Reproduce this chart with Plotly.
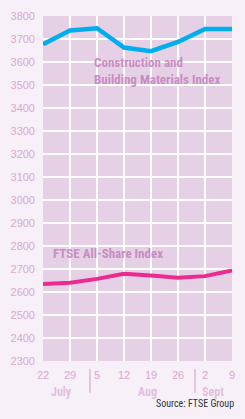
import plotly.graph_objects as go

dates = ["22", "29", "5", "12", "19", "26", "2", "9"]
construction = [3677, 3737, 3747, 3663, 3647, 3687, 3744, 3744]
ftse = [2635, 2640, 2657, 2679, 2672, 2662, 2669, 2694]
yticks = list(range(2300, 3801, 100))
months = ["July", "Aug", "Sept"]
month_pos = [0.7, 3.88, 6.3]
sep_pos = [1.74, 5.63]

x = list(range(len(dates)))
FONT = "Liberation Sans Narrow, Roboto Condensed, DejaVu Sans Condensed, Liberation Sans"

fig = go.Figure()
fig.add_trace(go.Scatter(x=x, y=construction, mode="lines",
                         line=dict(color="#00aeef", width=4.5), showlegend=False))
fig.add_trace(go.Scatter(x=x, y=ftse, mode="lines",
                         line=dict(color="#ec2a8f", width=4), showlegend=False))

fig.update_layout(
    width=245, height=419,
    margin=dict(l=43, r=13, t=9.5, b=57.5),
    paper_bgcolor="#f7f0f8",
    plot_bgcolor="#e5d0e6",
    font=dict(family="Liberation Sans, Arial", size=11, color="#d9a8d2"),
)
fig.update_xaxes(range=[0, 7], tickvals=x, ticktext=dates, showgrid=True,
                 gridcolor="#ffffff", gridwidth=1.5, zeroline=False, showline=False,
                 ticks="", ticklabelstandoff=6, tickfont=dict(size=11, color="#d9a8d2"))
fig.update_yaxes(range=[2300, 3800], tickvals=yticks, showgrid=True,
                 gridcolor="#ffffff", gridwidth=1.5, zeroline=False, showline=False,
                 ticks="", ticklabelstandoff=7, tickfont=dict(size=11, color="#d9a8d2"))

ann_color = "#c98dc3"
fig.add_annotation(x=1.82, y=3562, xref="x", yref="y", xanchor="left", yanchor="middle",
                   text="Construction and<br>Building Materials Index", showarrow=False,
                   align="left", font=dict(family=FONT, size=13, color=ann_color, weight="bold"))
fig.add_annotation(x=0.28, y=2768, xref="x", yref="y", xanchor="left", yanchor="middle",
                   text="FTSE All-Share Index", showarrow=False,
                   font=dict(family=FONT, size=13, color=ann_color, weight="bold"))

for m, p in zip(months, month_pos):
    fig.add_annotation(x=p, y=-0.09, xref="x", yref="paper", yanchor="middle",
                       text=m, showarrow=False,
                       font=dict(family=FONT, size=12, color="#e3bfe0", weight="bold"))
for s in sep_pos:
    fig.add_shape(type="line", x0=s, x1=s, y0=-0.024, y1=-0.092, xref="x", yref="paper",
                  line=dict(color="#d9a8d3", width=1.2))

fig.add_annotation(x=1.0, y=-0.124, xref="paper", yref="paper", xanchor="right",
                   yanchor="middle", xshift=4, text="Source: FTSE Group", showarrow=False,
                   font=dict(family=FONT, size=10, color="#333333"))

fig.write_html("out.html")
